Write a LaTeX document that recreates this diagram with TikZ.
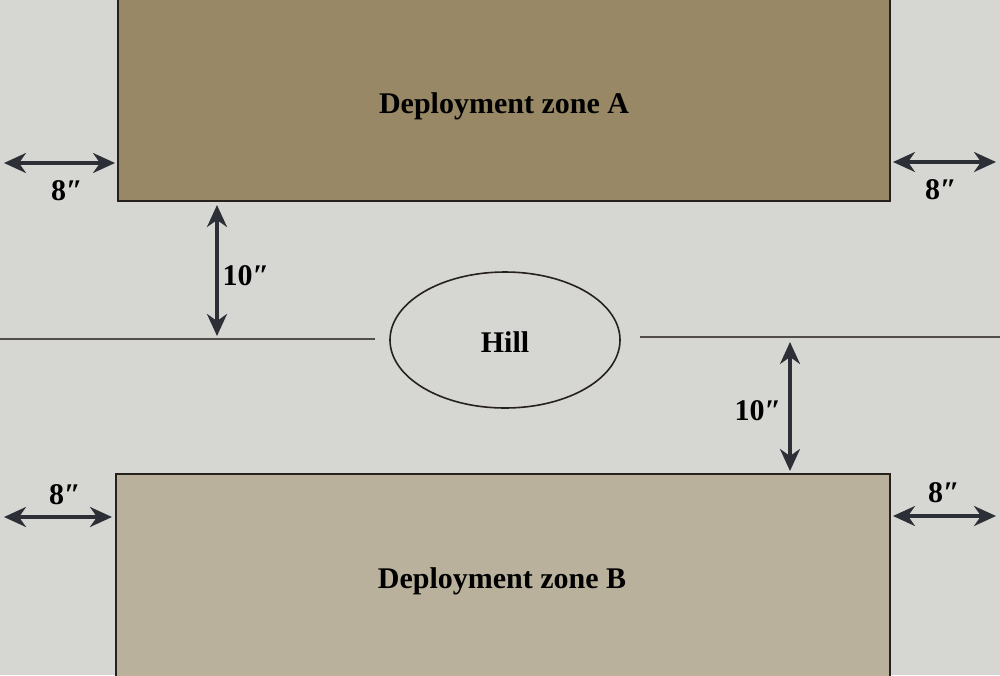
\documentclass[tikz,border=0pt]{standalone}
\usepackage{fontspec}
\setmainfont{Liberation Serif}
\usetikzlibrary{arrows.meta,shapes.geometric}
\definecolor{tablegray}{RGB}{214,214,211}
\definecolor{zoneAbrown}{RGB}{152,136,101}
\definecolor{zoneBtan}{RGB}{186,177,156}
\definecolor{inkline}{RGB}{38,33,28}
\definecolor{arrowink}{RGB}{44,47,54}
\newcommand*\labelsize{\fontsize{15}{17}\selectfont}
\tikzset{
    zonebox/.style   = {draw=inkline, line width=0.9pt},
    zonelabel/.style = {font=\bfseries\labelsize, text=black, inner sep=1pt},
    dimlabel/.style  = {zonelabel},
    measure/.style   = {draw=arrowink, line width=1.6pt,
                        {Stealth[length=11pt,width=10pt,inset=3.5pt]}-{Stealth[length=11pt,width=10pt,inset=3.5pt]}},
    midline/.style   = {draw=inkline!80, line width=0.6pt},
    hillshape/.style = {draw=inkline, line width=0.8pt, ellipse,
                        minimum width=115pt, minimum height=68pt},
  }
\begin{document}
\begin{tikzpicture}[x=0.5pt,y=-0.5pt]
      % table and frame
      \clip (0,0) rectangle (1000,675);
      \fill[tablegray] (0,0) rectangle (1000,675);

      % deployment zones
      \draw[zonebox, fill=zoneAbrown] (118,-10) rectangle (890,201);
      \draw[zonebox, fill=zoneBtan] (116,474) rectangle (890,690);
      \node[zonelabel] (zoneA) at (504,106) {Deployment zone A};
      \node[zonelabel] (zoneB) at (502,581) {Deployment zone B};

      % hill in the middle
      \node[hillshape] (hill) at (505,340) {};
      \node[zonelabel] (hillname) at ([yshift=-1pt]hill.center) {Hill};

      % centre line
      \coordinate (midW)  at (0,339);
      \coordinate (midWe) at (375,339);
      \coordinate (midEs) at (640,337);
      \coordinate (midE)  at (1000,337);
      \draw[midline] (midW) -- (midWe);
      \draw[midline] (midEs) -- (midE);

      % 8" side gaps
      \coordinate (tlA) at (4,163);   \coordinate (tlB) at (115,163);
      \coordinate (trA) at (893,162); \coordinate (trB) at (996,162);
      \coordinate (blA) at (4,517);   \coordinate (blB) at (112,517);
      \coordinate (brA) at (893,516); \coordinate (brB) at (996,516);
      \draw[measure] (tlA) -- (tlB);
      \draw[measure] (trA) -- (trB);
      \draw[measure] (blA) -- (blB);
      \draw[measure] (brA) -- (brB);
      \node[dimlabel] (tlgap) at (67,191) {8″};
      \node[dimlabel] (trgap) at (941,190) {8″};
      \node[dimlabel] (blgap) at (65,495) {8″};
      \node[dimlabel] (brgap) at (944,493) {8″};

      % 10" distances to the centre line
      \coordinate (lvA) at (217,205); \coordinate (lvB) at (217,336);
      \coordinate (rvA) at (790,342); \coordinate (rvB) at (790,471);
      \draw[measure] (lvA) -- (lvB);
      \draw[measure] (rvA) -- (rvB);
      \node[dimlabel] (lvgap) at (246,276) {10″};
      \node[dimlabel] (rvgap) at (758,411) {10″};
    \end{tikzpicture}
\end{document}
